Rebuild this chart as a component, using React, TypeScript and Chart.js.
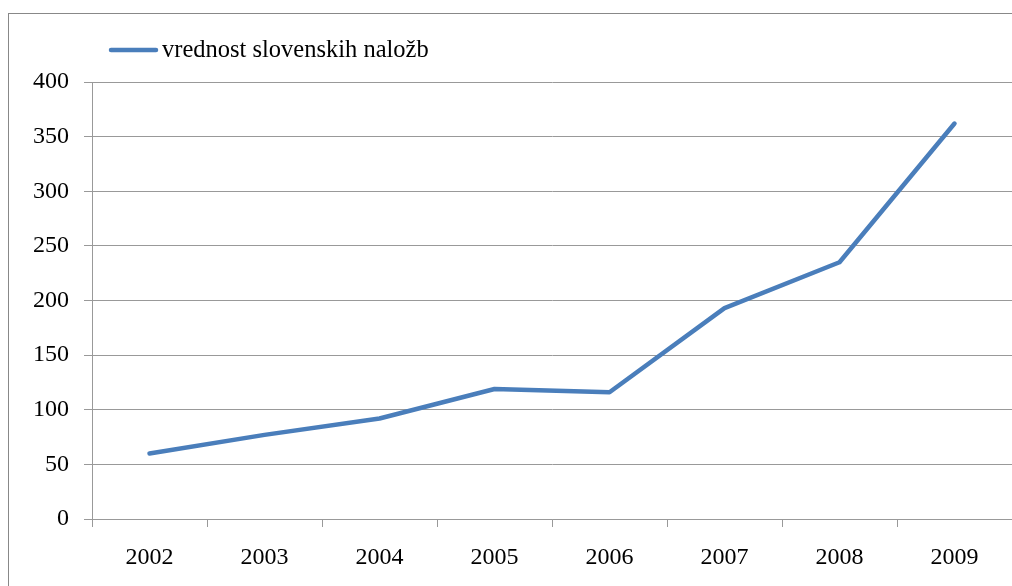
import React, { useEffect, useRef } from "react";
import { Chart, registerables } from "chart.js";

Chart.register(...registerables);

const categories = ["2002", "2003", "2004", "2005", "2006", "2007", "2008", "2009"];
const values = [60, 77, 92, 119, 116, 193, 235, 362];
const seriesLabel = "vrednost slovenskih naložb";
const yMin = 0;
const yMax = 400;
const yStep = 50;

const LINE_COLOR = "#4a7ebb";
const FONT = '"Liberation Serif", "Times New Roman", serif';

const legendPlugin = {
  id: "customLegend",
  afterDraw(chart: any) {
    const ctx = chart.ctx;
    ctx.save();
    ctx.strokeStyle = LINE_COLOR;
    ctx.lineWidth = 4.5;
    ctx.lineCap = "round";
    ctx.beginPath();
    ctx.moveTo(111, 50);
    ctx.lineTo(156, 50);
    ctx.stroke();
    ctx.fillStyle = "#000";
    ctx.font = `24.5px ${FONT}`;
    ctx.textBaseline = "middle";
    ctx.textAlign = "left";
    ctx.fillText(chart.data.datasets[0].label, 162, 51);
    ctx.restore();
  },
};

export default function App() {
  const ref = useRef<HTMLCanvasElement>(null);
  useEffect(() => {
    document.body.style.margin = "0";
    const chart = new Chart(ref.current!, {
      type: "line",
      data: {
        labels: categories,
        datasets: [
          {
            label: seriesLabel,
            data: values,
            borderColor: LINE_COLOR,
            backgroundColor: LINE_COLOR,
            borderWidth: 4.5,
            pointRadius: 0,
            tension: 0,
            borderCapStyle: "round",
            borderJoinStyle: "round",
          },
        ],
      },
      options: {
        responsive: false,
        animation: false,
        layout: { padding: { top: 82, left: 0, right: 0, bottom: 0 } },
        plugins: { legend: { display: false }, tooltip: { enabled: false } },
        scales: {
          x: {
            offset: true,
            grid: {
              offset: true,
              drawOnChartArea: false,
              drawTicks: true,
              tickLength: 8,
              color: "#999",
            },
            border: { color: "#999", width: 1 },
            ticks: { color: "#000", font: { family: FONT, size: 24 }, padding: 16, maxRotation: 0 },
            afterFit(scale: any) {
              scale.height = 67;
            },
          },
          y: {
            min: yMin,
            max: yMax,
            grid: { color: "#999", tickLength: 8, lineWidth: 1 },
            border: { color: "#999", width: 1 },
            ticks: { stepSize: yStep, color: "#000", font: { family: FONT, size: 24 }, padding: 15 },
            afterFit(scale: any) {
              scale.width = 92;
            },
          },
        },
      },
      plugins: [legendPlugin],
    });
    return () => chart.destroy();
  }, []);

  return (
    <div
      style={{
        position: "fixed",
        left: 0,
        top: 0,
        width: 1012,
        height: 586,
        overflow: "hidden",
        background: "#fff",
      }}
    >
      <div
        style={{
          position: "absolute",
          left: 8,
          top: 13,
          width: 1200,
          height: 800,
          border: "1px solid #888",
        }}
      />
      <canvas
        ref={ref}
        width={1012}
        height={586}
        style={{ position: "absolute", left: 0, top: 0, width: 1012, height: 586 }}
      />
    </div>
  );
}
